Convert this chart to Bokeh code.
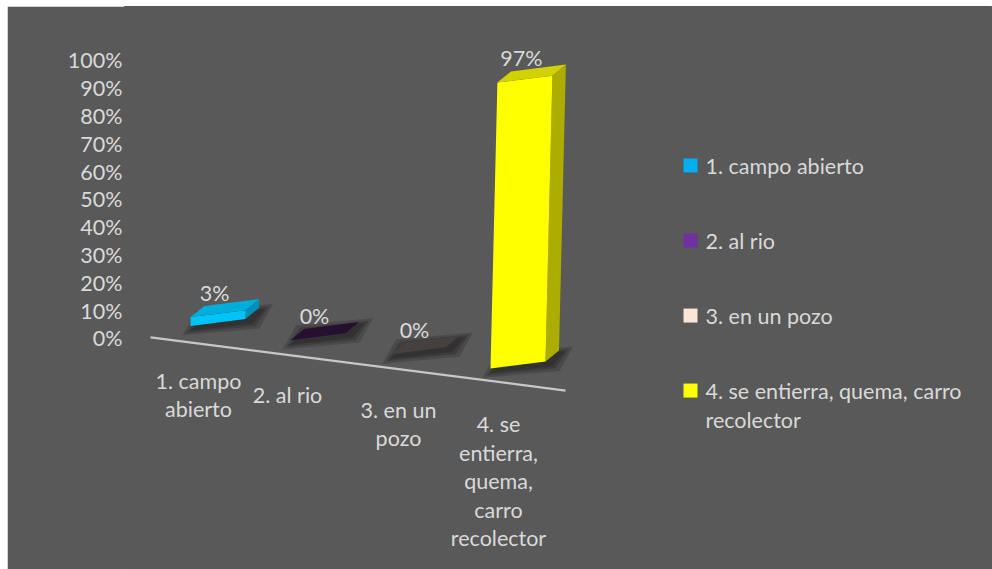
from bokeh.plotting import figure
from bokeh.models import Range1d, LinearAxis, FixedTicker, ColumnDataSource
from bokeh.core.properties import value
from bokeh.embed import file_html
from bokeh.resources import INLINE

# ---------------- data ----------------
categories = ["1. campo abierto", "2. al rio", "3. en un pozo",
              "4. se entierra, quema, carro recolector"]
axis_labels = ["1. campo\nabierto", "2. al rio", "3. en un\npozo",
               "4. se\nentierra,\nquema,\ncarro\nrecolector"]
legend_labels = ["1. campo abierto", "2. al rio", "3. en un pozo",
                 "4. se entierra, quema, carro\nrecolector"]
shares = [0.03, 0.00, 0.00, 0.97]
y_ticks = [0.0, 0.1, 0.2, 0.3, 0.4, 0.5, 0.6, 0.7, 0.8, 0.9, 1.0]
y_tick_labels = ["0%", "10%", "20%", "30%", "40%", "50%", "60%", "70%", "80%", "90%", "100%"]

# ---------------- style ----------------
BG = "#595959"
TXT = "#D9D9D9"
FONT = "Lato"
FS = "21.5px"
LH = 1.10
legend_colors = ["#00B0F0", "#7030A0", "#FBE5D6", "#FFFF00"]
front_colors = ["#00C4F8", "#3A1850", "#5A5350", "#FFFF00"]
top_colors = ["#00AEDD", "#26102F", "#46403E", "#D2D200"]
side_colors = ["#0090B8", "#1C0A24", "#3A3535", "#ADAD00"]
label_nudge = [0.0, -0.11, 0.0, 0.0]   # horizontal nudge of category labels

# pseudo-3D projection constants (data units)
BAR_W = 0.55        # front width (x units)
FLOOR_Y0 = 0.045    # base of first bar
FLOOR_DROP = 0.051  # base drop per category
SKEW = -0.025       # front-bottom edge drop across the width
DX, DY = 0.135, 0.040  # depth offset
GAIN = 1.06         # perspective height gain
LEAN = 0.067        # x lean per unit of height

p = figure(width=985, height=563, margin=(6, 0, 0, 7),
           output_backend="svg", toolbar_location=None,
           x_range=Range1d(-0.66, 8.02), y_range=Range1d(-0.831, 1.194),
           x_axis_location=None, y_axis_location=None,
           min_border_left=117, min_border_right=0, min_border_top=0, min_border_bottom=0,
           background_fill_color=BG, border_fill_color=BG,
           outline_line_color=BG, outline_line_width=1)
p.grid.visible = False

yax = LinearAxis(ticker=FixedTicker(ticks=y_ticks),
                 major_label_overrides={t: l for t, l in zip(y_ticks, y_tick_labels)},
                 axis_line_color=None, major_tick_line_color=None, minor_tick_line_color=None,
                 major_tick_out=0, major_tick_in=0, major_label_standoff=2,
                 major_label_text_font=FONT, major_label_text_font_size=FS,
                 major_label_text_color=TXT)
p.add_layout(yax, "left")

# floor line
fl_x = [-0.4, 3.75]
fl_y = [0.0036 - 0.046 * (x + 0.4) for x in fl_x]
p.line(fl_x, fl_y, line_color="#C8C8C8", line_width=2.2)

shadow_xs, shadow_ys = [], []
fxs, fys, fcol = [], [], []
lab_x, lab_y, lab_t = [], [], []
for i, v in enumerate(shares):
    x0, x1 = i, i + BAR_W
    yb0 = FLOOR_Y0 - FLOOR_DROP * i
    yb1 = yb0 - SKEW
    h = v * GAIN
    lx = LEAN * h
    # soft shadow layers on the floor
    for e in (0.11, 0.07, 0.035):
        ey = e * 100 / 278 * 0.6
        shadow_xs.append([x0 - e + 0.03, x1 + e + 0.03, x1 + DX + e + 0.03, x0 + DX - e + 0.03])
        shadow_ys.append([yb0 - ey - 0.01, yb1 - ey - 0.01, yb1 + DY + ey - 0.01, yb0 + DY + ey - 0.01])
    side = ([x1, x1 + DX, x1 + lx + DX, x1 + lx], [yb1, yb1 + DY, yb1 + h + DY, yb1 + h])
    front = ([x0, x1, x1 + lx, x0 + lx], [yb0, yb1, yb1 + h, yb0 + h])
    top = ([x0 + lx, x1 + lx, x1 + lx + DX, x0 + lx + DX],
           [yb0 + h, yb1 + h, yb1 + h + DY, yb0 + h + DY])
    for (xs, ys), c in ((side, side_colors[i]), (front, front_colors[i]), (top, top_colors[i])):
        fxs.append(xs); fys.append(ys); fcol.append(c)
    lab_x.append(i + BAR_W / 2 + lx - 0.035)
    lab_y.append(yb0 - SKEW / 2 + h + 0.075)
    lab_t.append(f"{round(v * 100)}%")

p.patches(shadow_xs, shadow_ys, fill_color="black", fill_alpha=0.17, line_color=None)
p.patches(xs="xs", ys="ys", fill_color="c", line_color=None,
          source=ColumnDataSource(dict(xs=fxs, ys=fys, c=fcol)))

p.text(lab_x, lab_y, text=lab_t, text_align="center", text_baseline="middle",
       text_font=value(FONT), text_font_size=FS, text_color=TXT)

# category labels
cx = [i + 0.08 + label_nudge[i] for i in range(len(categories))]
cy = [-0.105 - 0.052 * i for i in range(len(categories))]
p.text(cx, cy, text=axis_labels, text_align="center", text_baseline="top",
       text_font=value(FONT), text_font_size=FS, text_color=TXT, text_line_height=LH)

# legend (manual)
lx_sq = [5.0] * len(categories)
ly_sq = [0.622 - 0.2698 * i for i in range(len(categories))]
p.rect(lx_sq, ly_sq, width=14, height=14, width_units="screen", height_units="screen",
       fill_color=legend_colors, line_color=None)
p.text([5.15] * len(categories), [y + 0.045 for y in ly_sq], text=legend_labels,
       text_align="left", text_baseline="top",
       text_font=value(FONT), text_font_size=FS, text_color=TXT, text_line_height=LH)

open("out.html", "w").write(file_html(p, INLINE))
